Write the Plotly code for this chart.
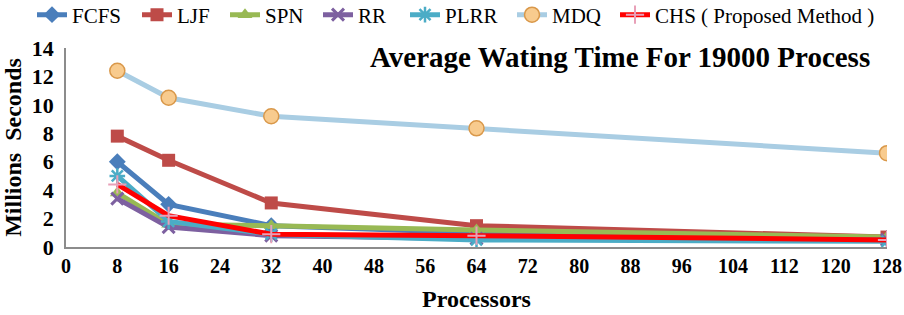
import plotly.graph_objects as go

processors = [8, 16, 32, 64, 128]
fcfs = [6.0, 3.0, 1.5, 1.0, 0.6]
ljf = [7.8, 6.1, 3.1, 1.5, 0.7]
spn = [3.8, 1.6, 1.5, 1.2, 0.7]
rr = [3.4, 1.4, 0.8, 0.6, 0.5]
plrr = [5.0, 1.8, 0.9, 0.5, 0.4]
mdq = [12.4, 10.5, 9.2, 8.35, 6.6]
chs = [4.4, 2.2, 0.9, 0.8, 0.5]
x_ticks = list(range(0, 129, 8))
y_ticks = list(range(0, 15, 2))

series = [
    ("FCFS", fcfs, "#4a7ebb", dict(symbol="diamond", size=13, color="#4a7ebb")),
    ("LJF", ljf, "#be4b48", dict(symbol="square", size=13, color="#be4b48")),
    ("SPN", spn, "#98b954", dict(symbol="triangle-up", size=13, color="#98b954")),
    ("RR", rr, "#7d60a0", dict(symbol="x-thin", size=12, color="#7d60a0", line=dict(width=3, color="#7d60a0"))),
    ("PLRR", plrr, "#4bacc6", dict(symbol="asterisk", size=13, color="#4bacc6", line=dict(width=2.5, color="#4bacc6"))),
    ("MDQ", mdq, "#a9cde3", dict(symbol="circle", size=15, color="#f8cb8e", line=dict(width=1.5, color="#d9984a"))),
    ("CHS ( Proposed Method )", chs, "#ff0000", dict(symbol="cross-thin", size=13, color="#e8a0b8", line=dict(width=2, color="#e8a0b8"))),
]
# legend entry left positions (pixels in the 904-wide container)
legend_left_px = [32, 137, 225, 318, 405, 512, 615]

font = "Times New Roman, Liberation Serif, DejaVu Serif, serif"
W, H = 904, 315

fig = go.Figure()
legend_layouts = {}
for i, ((name, vals, col, mk), lx) in enumerate(zip(series, legend_left_px)):
    key = "legend" if i == 0 else "legend%d" % (i + 1)
    fig.add_trace(go.Scatter(x=processors, y=vals, name=name, mode="lines+markers",
                             line=dict(color=col, width=5), marker=mk, legend=key))
    legend_layouts[key] = dict(orientation="h", x=lx / W, y=1 - 15 / H, xref="container", yref="container",
                               xanchor="left", yanchor="middle", font=dict(size=21, family=font),
                               bgcolor="rgba(0,0,0,0)", borderwidth=0)

fig.update_layout(
    width=W, height=H,
    margin=dict(l=66, r=17, t=48, b=68, autoexpand=False),
    paper_bgcolor="white", plot_bgcolor="white",
    font=dict(family=font, color="black"),
    showlegend=True,
    **legend_layouts,
)
fig.add_annotation(text="Average Wating Time For 19000 Process",
                   x=0.982, y=1 - (57 - 48) / (H - 48 - 68), xref="paper", yref="paper",
                   xanchor="right", yanchor="middle",
                   showarrow=False, font=dict(size=29, family=font, color="black", weight="bold"))
fig.update_xaxes(range=[0, 128], tickvals=x_ticks, ticktext=[str(t) for t in x_ticks],
                 showgrid=False, zeroline=False, showline=True, linecolor="#8c8c8c", linewidth=1.5,
                 ticks="", tickfont=dict(size=20, family=font, weight="bold"),
                 title=dict(text="Processors", font=dict(size=24, family=font, weight="bold"), standoff=14))
fig.update_yaxes(range=[0, 14], tickvals=y_ticks, ticktext=[str(t) for t in y_ticks],
                 showgrid=False, zeroline=False, showline=True, linecolor="#8c8c8c", linewidth=1.5,
                 ticks="", tickfont=dict(size=22, family=font, weight="bold"), ticklabelstandoff=6,
                 title=dict(text="Millions  Seconds", font=dict(size=24, family=font, weight="bold"), standoff=4))
fig.write_html("out.html", config={"displayModeBar": False},
               post_script="document.body.style.margin='0';document.body.style.overflow='hidden';")
